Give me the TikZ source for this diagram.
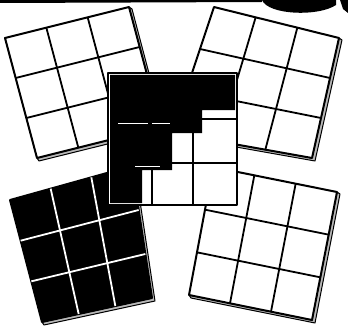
\documentclass[tikz,border=0pt]{standalone}
\usetikzlibrary{calc}
\tikzset{
  tileside/.style = {draw=black, line width=1pt, fill=gray!55, line join=round},
  tileface/.style = {draw=black, line width=2pt, line join=round},
  gridline/.style = {line width=1.8pt},
  smudge/.style   = {fill=black},
}

\begin{document}
\begin{tikzpicture}[x=1pt, y=-1pt]
  \useasboundingbox (0,0) rectangle (348,329);
  % dark scan marks along the top
  \fill[smudge] (0,0) -- (262,0) -- (262,2) -- (0,3) -- cycle;
  \fill[smudge] (262,0) .. controls (268,15) and (318,17) .. (336,5) -- (336,0) -- cycle;
  \fill[smudge] (340,0) -- (348,0) -- (348,13) -- (343,9) -- cycle;
  % corners of the tilted boards: a top left, b top right, c bottom right, d bottom left
  \coordinate (t1a) at (5,38);    \coordinate (t1b) at (129,7);
  \coordinate (t1c) at (161,127); \coordinate (t1d) at (37,158);
  \coordinate (t2a) at (214,7);   \coordinate (t2b) at (339,38);
  \coordinate (t2c) at (312,158); \coordinate (t2d) at (172,133);
  \coordinate (t3a) at (10,200);  \coordinate (t3b) at (132,166);
  \coordinate (t3c) at (152,298); \coordinate (t3d) at (42,322);
  \coordinate (t4a) at (213,167); \coordinate (t4b) at (337,192);
  \coordinate (t4c) at (312,320); \coordinate (t4d) at (189,295);
  \foreach \tile/\fc/\lc in {t1/white/black, t2/white/black, t3/black/white, t4/white/black} {
    % thickness of the board
    \filldraw[tileside] ($(\tile b)+(3,2)$) -- ($(\tile c)+(3,3)$) -- ($(\tile d)+(2,3)$)
      -- (\tile d) -- (\tile c) -- (\tile b) -- cycle;
    \filldraw[tileface, fill=\fc] (\tile a) -- (\tile b) -- (\tile c) -- (\tile d) -- cycle;
    \foreach \k in {1,2} {
      \draw[gridline, \lc] ($(\tile a)!\k/3!(\tile b)$) -- ($(\tile d)!\k/3!(\tile c)$);
      \draw[gridline, \lc] ($(\tile a)!\k/3!(\tile d)$) -- ($(\tile b)!\k/3!(\tile c)$);
    }
  }
  % middle board, partly turned over
  \coordinate (ma) at (108,73);
  \coordinate (mc) at (237,205);
  \filldraw[tileface, fill=white] (ma) rectangle (mc);
  \fill (110,75) -- (235,75) -- (235,110) -- (202,110) -- (202,133) -- (172,133)
    -- (172,170) -- (142,170) -- (142,203) -- (110,203) -- cycle;
  \draw[gridline] (202,119) -- (236,119);
  \draw[gridline] (172,163) -- (236,163);
  \draw[gridline] (193,133) -- (193,204);
  \draw[gridline] (152,170) -- (152,204);
  \draw[gridline, white, line width=1pt] (118,123) -- (148,123) (152,123) -- (170,123);
  \draw[gridline, white, line width=1pt] (135,166) -- (160,166);
\end{tikzpicture}
\end{document}
